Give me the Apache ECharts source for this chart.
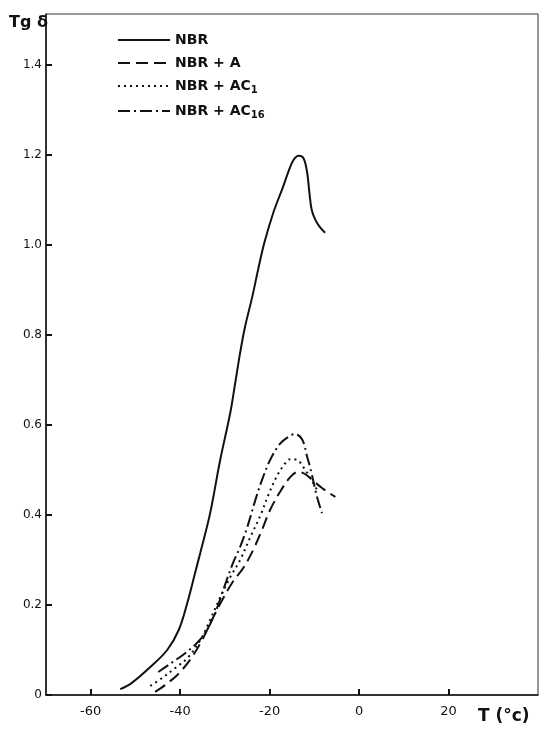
<!DOCTYPE html>
<html>
<head>
<meta charset="utf-8">
<script src="https://cdn.jsdelivr.net/npm/echarts@6/dist/echarts.min.js"></script>
<style>
  html, body { margin: 0; padding: 0; background: #fff; }
  #main { width: 546px; height: 735px; }
</style>
</head>
<body>
<div id="main"></div>
<script>
// tick labels
var xTicks = [-60, -40, -20, 0, 20];
var yTicks = [0, 0.2, 0.4, 0.6, 0.8, 1.0, 1.2, 1.4];

var seriesNames = ["NBR", "NBR + A", "NBR + AC1", "NBR + AC16"];

// NBR (solid)
var nbrT = [-53.4, -50.8, -46.7, -42.9, -40.3, -38.4, -36.7, -35.5, -33.3, -31.1, -28.8, -27.7, -26.6, -25.5, -23.9, -22.6, -21.2, -19.2, -17.0, -15.8, -14.7, -13.5, -12.4, -11.6, -11.1, -10.6, -9.8, -8.8, -7.6];
var nbrTg = [0.013, 0.027, 0.062, 0.100, 0.145, 0.205, 0.270, 0.316, 0.404, 0.520, 0.627, 0.693, 0.760, 0.818, 0.884, 0.944, 1.004, 1.071, 1.129, 1.163, 1.188, 1.198, 1.192, 1.160, 1.115, 1.078, 1.056, 1.040, 1.027];

// NBR + A (dashed)
var aT = [-45.6, -43.4, -40.7, -37.8, -35.1, -32.9, -30.6, -28.4, -25.9, -23.7, -21.7, -19.9, -17.7, -15.4, -13.6, -12.1, -10.5, -8.3, -5.3];
var aTg = [0.007, 0.022, 0.044, 0.078, 0.122, 0.167, 0.211, 0.249, 0.282, 0.322, 0.367, 0.411, 0.451, 0.484, 0.496, 0.491, 0.478, 0.460, 0.440];

// NBR + AC1 (dotted)
var ac1T = [-46.7, -44.0, -41.1, -38.2, -35.5, -33.3, -31.1, -28.8, -26.6, -24.4, -22.1, -20.3, -18.5, -16.8, -15.4, -13.8, -12.5, -10.9, -9.4];
var ac1Tg = [0.020, 0.038, 0.060, 0.084, 0.122, 0.167, 0.216, 0.262, 0.300, 0.349, 0.398, 0.444, 0.484, 0.511, 0.524, 0.522, 0.507, 0.482, 0.456];

// NBR + AC16 (dash-dot)
var ac16T = [-44.9, -42.3, -39.4, -36.7, -34.4, -32.2, -30.0, -28.2, -26.6, -25.0, -23.2, -21.7, -19.9, -17.7, -15.9, -14.3, -12.7, -11.6, -10.7, -9.8, -9.2, -8.3];
var ac16Tg = [0.051, 0.069, 0.089, 0.111, 0.138, 0.182, 0.244, 0.293, 0.329, 0.373, 0.433, 0.478, 0.522, 0.558, 0.573, 0.580, 0.567, 0.529, 0.496, 0.456, 0.433, 0.404];

function pairs(xs, ys) {
  var res = [];
  for (var i = 0; i < xs.length; i++) {
    res.push([xs[i], ys[i]]);
  }
  return res;
}

var ink = "#111";

function makeLine(name, xs, ys, dash) {
  return {
    name: name,
    type: "line",
    data: pairs(xs, ys),
    symbol: "none",
    smooth: 0.35,
    lineStyle: { color: ink, width: 2, type: dash, cap: "butt" },
    itemStyle: { color: ink }
  };
}

var myChart = echarts.init(document.getElementById("main"));

var option = {
  backgroundColor: "#fff",
  animation: false,
  grid: {
    left: 46,
    right: 8,
    top: 14,
    bottom: 40,
    show: true,
    borderColor: "#333",
    borderWidth: 1
  },
  legend: {
    orient: "vertical",
    left: 112,
    top: 28,
    itemWidth: 52,
    itemHeight: 14,
    itemGap: 9,
    data: seriesNames,
    itemStyle: { opacity: 0 },
    formatter: function(name) {
      return name.replace(/AC(\d+)$/, "AC{s|$1}");
    },
    textStyle: {
      color: ink,
      fontSize: 14,
      fontWeight: "bold",
      fontFamily: "DejaVu Sans",
      rich: {
        s: {
          fontSize: 10,
          fontWeight: "bold",
          fontFamily: "DejaVu Sans",
          color: ink,
          padding: [8, 0, 0, 0]
        }
      }
    }
  },
  xAxis: {
    type: "value",
    min: -70,
    max: 40,
    axisLine: { show: true, onZero: false, lineStyle: { color: ink, width: 1.5 } },
    axisTick: {
      show: true,
      inside: true,
      length: 6,
      customValues: xTicks,
      lineStyle: { color: ink, width: 2 }
    },
    axisLabel: {
      customValues: xTicks,
      margin: 10,
      color: ink,
      fontSize: 13,
      fontFamily: "DejaVu Sans"
    },
    splitLine: { show: false }
  },
  yAxis: {
    type: "value",
    min: 0,
    max: 1.513,
    axisLine: { show: true, onZero: false, lineStyle: { color: ink, width: 1.5 } },
    axisTick: {
      show: true,
      inside: true,
      length: 6,
      customValues: yTicks,
      lineStyle: { color: ink, width: 2 }
    },
    axisLabel: {
      customValues: yTicks,
      margin: 4,
      color: ink,
      fontSize: 12,
      fontFamily: "DejaVu Sans",
      formatter: function(v) {
        return v === 0 ? "0" : v.toFixed(1);
      }
    },
    splitLine: { show: false }
  },
  graphic: [
    {
      type: "text",
      left: 9,
      top: 15,
      style: { text: "Tg δ", fill: ink, fontSize: 16, fontWeight: "bold", fontFamily: "DejaVu Sans" }
    },
    {
      type: "text",
      left: 478,
      top: 708,
      style: { text: "T (°c)", fill: ink, fontSize: 17, fontWeight: "bold", fontFamily: "DejaVu Sans" }
    }
  ],
  series: [
    makeLine(seriesNames[0], nbrT, nbrTg, "solid"),
    makeLine(seriesNames[1], aT, aTg, [12, 6]),
    makeLine(seriesNames[2], ac1T, ac1Tg, [2, 4]),
    makeLine(seriesNames[3], ac16T, ac16Tg, [12, 4, 2, 4])
  ]
};

myChart.setOption(option);
window.addEventListener("resize", function() {
  myChart.resize();
});
</script>
</body>
</html>
